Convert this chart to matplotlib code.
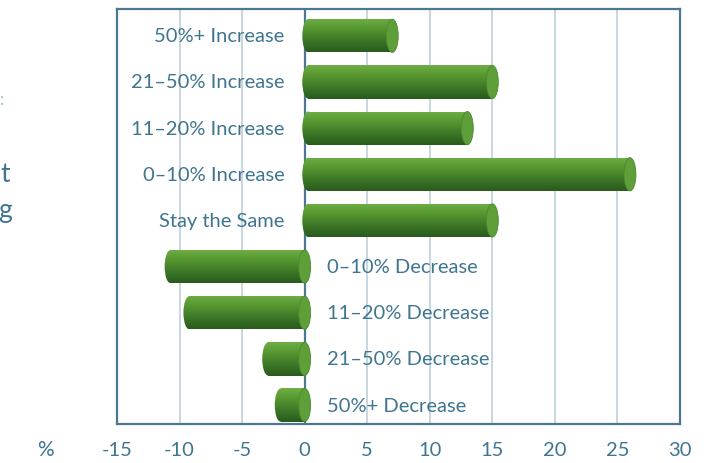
import numpy as np
import matplotlib
matplotlib.use('Agg')
import matplotlib.pyplot as plt
from matplotlib.patches import Ellipse
from matplotlib.colors import LinearSegmentedColormap

# data (percent of respondents)
categories = ['50%+ Increase', '21–50% Increase', '11–20% Increase', '0–10% Increase',
              'Stay the Same', '0–10% Decrease', '11–20% Decrease', '21–50% Decrease',
              '50%+ Decrease']
values = [7, 15, 13, 26, 15, -11, -9.5, -3.2, -2.2]
xticks = [-15, -10, -5, 0, 5, 10, 15, 20, 25, 30]

TXT = '#3f7590'
FRAME = '#4c7891'
GRID = '#c3d3dd'
CAP = '#5e9f3a'
FONT = dict(family='Lato')
green = LinearSegmentedColormap.from_list('cyl', ['#6fae45', '#54952f', '#3b7726', '#2a5a1c'])

fig = plt.figure(figsize=(7.19, 4.64), dpi=100)
ax = fig.add_axes([0.1627, 0.084, 0.7831, 0.8944])
ax.set_xlim(-15, 30)
ax.set_ylim(len(categories) - 1 + 0.41, -0.58)

for xv in xticks[1:]:
    ax.axvline(xv, color=FRAME if xv == 0 else GRID, lw=1.6 if xv == 0 else 1.3, zorder=1)

h = 0.72
capw = 0.95
grad = np.linspace(0, 1, 64).reshape(-1, 1)
bars = ax.barh(range(len(values)), values, height=h, color='none', zorder=2)
for i, (b, v) in enumerate(zip(bars, values)):
    lo, hi = min(0, v), max(0, v)
    # round back end sits at the low end, flat cap at the far (right) end
    x0 = lo + capw * 0.3
    b.set_x(x0)
    b.set_width(hi - x0)
    ext = [lo - capw, hi, i + h / 2, i - h / 2]
    im = ax.imshow(grad, cmap=green, aspect='auto', extent=ext, zorder=3)
    im.set_clip_path(b)
    back = Ellipse((x0, i), capw, h, facecolor='none', edgecolor='none', zorder=3)
    ax.add_patch(back)
    im2 = ax.imshow(grad, cmap=green, aspect='auto', extent=ext, zorder=3)
    im2.set_clip_path(back)
    ax.add_patch(Ellipse((hi, i), capw, h, facecolor=CAP, edgecolor='#4a8a2c',
                         lw=0.6, zorder=4))
    if v > 0:
        ax.text(-1.6, i, categories[i], ha='right', va='center', color=TXT,
                fontsize=14.5, zorder=5, **FONT)
    else:
        ax.text(1.8, i, categories[i], ha='left', va='center', color=TXT,
                fontsize=14.5, zorder=5, **FONT)

ax.set_xlim(-15, 30)
ax.set_xticks(xticks)
ax.set_xticklabels([str(t) for t in xticks], fontsize=14.5, color=TXT, **FONT)
ax.tick_params(axis='x', length=0, pad=12)
ax.set_yticks([])
for s in ax.spines.values():
    s.set_color(FRAME)
    s.set_linewidth(1.6)

fig.text(45 / 719, 1 - 450 / 464, '%', ha='center', va='center', color=TXT,
         fontsize=15, **FONT)
# fragments of side text cut off at the left edge
fig.text(0.0, 1 - 100 / 464, ':', ha='left', va='center', color='#9cb9c8', fontsize=12,
         **FONT)
fig.text(0.0, 1 - 175 / 464, 't', ha='left', va='center', color=TXT, fontsize=19,
         **FONT)
fig.text(-0.002, 1 - 211 / 464, 'g', ha='left', va='center', color=TXT, fontsize=19,
         **FONT)

fig.savefig('out.png', dpi=100)
